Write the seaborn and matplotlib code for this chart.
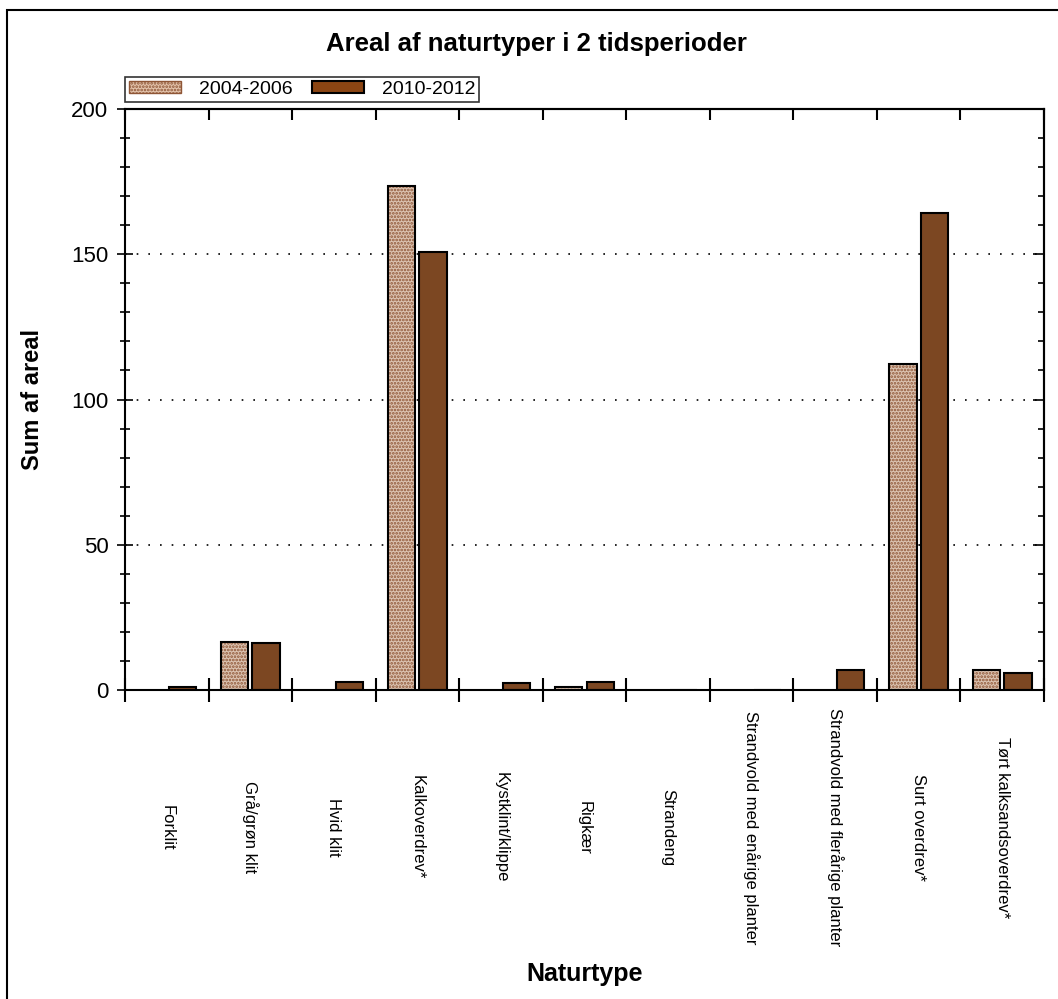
import matplotlib
matplotlib.use("Agg")
import matplotlib.pyplot as plt
import matplotlib.patches as mpatches
from matplotlib.ticker import FixedLocator, MultipleLocator, NullFormatter
import seaborn as sns
import pandas as pd

# data
naturtyper = ['Forklit', 'Grå/grøn klit', 'Hvid klit', 'Kalkoverdrev*', 'Kystklint/klippe',
              'Rigkær', 'Strandeng', 'Strandvold med enårige planter',
              'Strandvold med flerårige planter', 'Surt overdrev*', 'Tørt kalksandsoverdrev*']
perioder = ['2004-2006', '2010-2012']
areal_2004 = [0, 16.5, 0, 173.5, 0, 1.1, 0, 0, 0, 112.2, 6.9]
areal_2010 = [1.1, 16.1, 2.9, 150.8, 2.3, 2.9, 0, 0, 6.9, 164.2, 5.7]

df = pd.DataFrame({
    'Naturtype': naturtyper * 2,
    'Periode': [perioder[0]] * len(naturtyper) + [perioder[1]] * len(naturtyper),
    'Areal': areal_2004 + areal_2010,
})

sns.set_style('white')
plt.rcParams['font.family'] = ['Liberation Sans', 'DejaVu Sans']
plt.rcParams['hatch.linewidth'] = 1.3
for k in ['text.color', 'axes.labelcolor', 'xtick.color', 'ytick.color']:
    plt.rcParams[k] = 'black'

light = '#e3c3ab'
dark = '#8b4513'
hatch_col = '#8f5636'

fig = plt.figure(figsize=(10.58, 9.99), dpi=100)
ax = fig.add_axes([125 / 1058, 1 - 690 / 999, (1044 - 125) / 1058, (690 - 109) / 999])

sns.barplot(data=df, x='Naturtype', y='Areal', hue='Periode', order=naturtyper,
            hue_order=perioder, palette=[light, dark], width=0.75, gap=0.13,
            edgecolor='black', linewidth=1.5, legend=False, ax=ax)

# hatch the first period, then redraw a black outline on top
n = len(naturtyper)
for p in ax.patches[:n]:
    p.set_hatch('.....')
    p.set_edgecolor(hatch_col)
    p.set_linewidth(0)
    if p.get_height() > 0:
        ax.add_patch(mpatches.Rectangle(p.get_xy(), p.get_width(), p.get_height(),
                                        fill=False, edgecolor='black', linewidth=1.5, zorder=3))

ax.set_ylim(0, 200)
ax.set_xlim(-0.5, n - 0.5)

for s in ax.spines.values():
    s.set_visible(True)
    s.set_color('black')
    s.set_linewidth(1.5)

# y axis
ax.yaxis.set_major_locator(MultipleLocator(50))
ax.yaxis.set_minor_locator(MultipleLocator(10))
ax.tick_params(axis='y', which='major', direction='inout', length=12, width=1.2, labelsize=16, pad=6, left=True)
ax.tick_params(axis='y', which='minor', direction='inout', length=7, width=1.2, left=True)
ax.yaxis.grid(True, which='major', color='black', linestyle=(0, (1, 6)), linewidth=1.2)
ax.set_axisbelow(True)

# x axis: separators at category boundaries, labels at centres
ax.xaxis.set_minor_locator(FixedLocator([i - 0.5 for i in range(n + 1)]))
ax.xaxis.set_minor_formatter(NullFormatter())
ax.tick_params(axis='x', which='minor', direction='inout', length=17, width=1.5, bottom=True)
ax.tick_params(axis='x', which='major', length=0, pad=99, labelsize=12)
for lab in ax.get_xticklabels():
    lab.set_rotation(-90)
    lab.set_ha('center')
    lab.set_va('center')

# top and right inward ticks
top = ax.secondary_xaxis('top')
top.set_xticks([i - 0.5 for i in range(n + 1)])
top.tick_params(direction='in', length=8, width=1.5, labeltop=False)
top.spines['top'].set_linewidth(1.5)
right = ax.secondary_yaxis('right')
right.yaxis.set_major_locator(MultipleLocator(50))
right.yaxis.set_minor_locator(MultipleLocator(10))
right.tick_params(which='major', direction='in', length=8, width=1.2, labelright=False)
right.tick_params(which='minor', direction='in', length=4, width=1.2)
right.spines['right'].set_linewidth(1.5)

ax.set_xlabel('Naturtype', fontsize=18, fontweight='bold')
ax.xaxis.set_label_coords(0.5, -0.468)
ax.set_ylabel('Sum af areal', fontsize=17, fontweight='bold')
ax.yaxis.set_label_coords(-0.088, 0.5)

fig.text(0.507, 1 - 44 / 999, 'Areal af naturtyper i 2 tidsperioder', ha='center', va='center',
         fontsize=18.5, fontweight='bold')

handles = [mpatches.Patch(facecolor=light, edgecolor=hatch_col, hatch='.....', label=perioder[0]),
           mpatches.Patch(facecolor=dark, edgecolor='black', linewidth=1.5, label=perioder[1])]
leg = ax.legend(handles=handles, loc='lower left', bbox_to_anchor=(0, 1.012), ncol=2,
                fontsize=14, frameon=True, fancybox=False, borderaxespad=0,
                handlelength=2.7, handleheight=0.55, columnspacing=1.0, handletextpad=0.9,
                borderpad=0.2)
leg.get_frame().set_edgecolor('black')
leg.get_frame().set_linewidth(1.2)

# outer border of the figure
fig.patches.append(mpatches.Rectangle((7 / 1058, -0.01), 1.0, 1 - 10 / 999 + 0.01,
                                      transform=fig.transFigure, fill=False,
                                      edgecolor='black', linewidth=1.5))

fig.savefig('out.png', dpi=100)
